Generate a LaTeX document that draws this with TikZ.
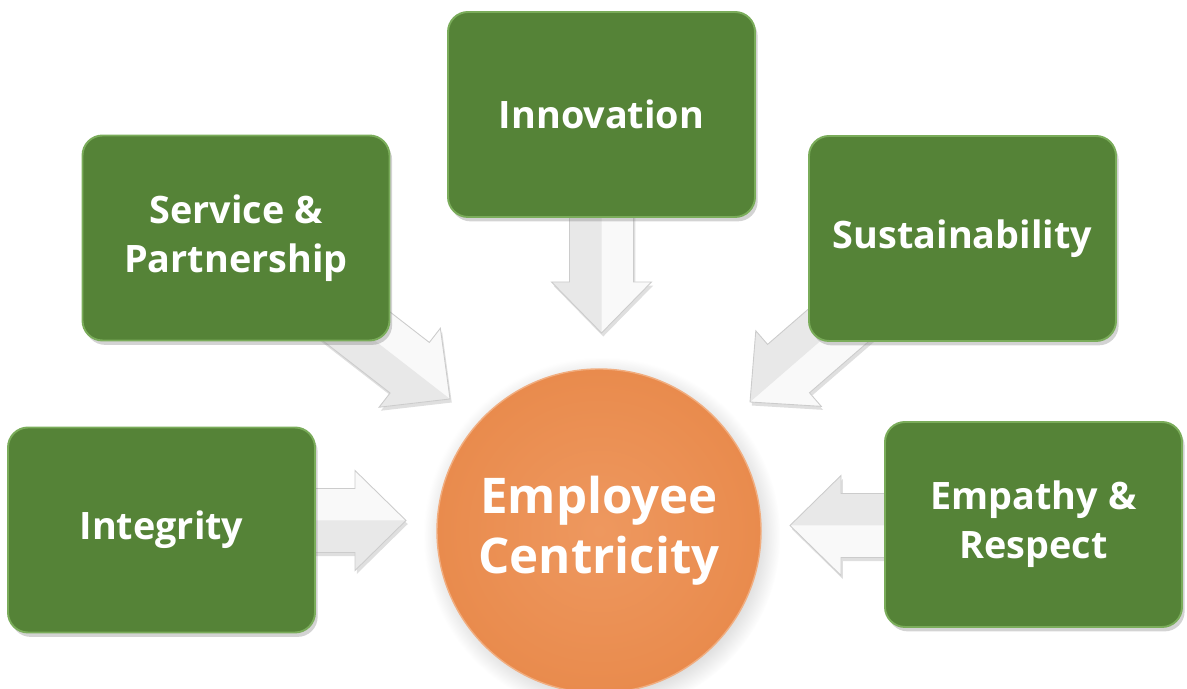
\documentclass[tikz,border=0pt]{standalone}
\usepackage{fontspec}
\setmainfont{Open Sans}
\usetikzlibrary{calc,shadows,backgrounds}

\definecolor{valuegreen}{RGB}{85,131,55}
\definecolor{valuerim}{RGB}{122,172,90}
\definecolor{coreorange}{RGB}{233,139,77}
\definecolor{corelight}{RGB}{238,152,95}

% block arrow from #1 (tail) to #2 (tip)
\newcommand{\valuearrow}[2]{%
  \coordinate (hb) at ($(#2)!1.02cm!(#1)$);
  \fill[arrow body] ($(#1)!.64cm!90:(#2)$) -- ($(hb)!.64cm!90:(#2)$) -- ($(hb)!1cm!90:(#2)$) -- (#2)
    -- ($(hb)!1cm!-90:(#2)$) -- ($(hb)!.64cm!-90:(#2)$) -- ($(#1)!.64cm!-90:(#2)$) -- cycle;
  \fill[arrow side] (#1) -- ($(#1)!.64cm!-90:(#2)$) -- ($(hb)!.64cm!-90:(#2)$)
    -- ($(hb)!1cm!-90:(#2)$) -- (#2) -- cycle;
  \draw[arrow edge] ($(#1)!.64cm!90:(#2)$) -- ($(hb)!.64cm!90:(#2)$) -- ($(hb)!1cm!90:(#2)$) -- (#2)
    -- ($(hb)!1cm!-90:(#2)$) -- ($(hb)!.64cm!-90:(#2)$) -- ($(#1)!.64cm!-90:(#2)$);
}

\begin{document}
\begin{tikzpicture}[
    value/.style={rectangle, rounded corners=0.4cm, minimum width=6.14cm, minimum height=4.1cm,
      fill=valuegreen, draw=valuerim, line width=1.1pt, text=white, align=center,
      font=\bfseries\fontsize{21.5}{28}\selectfont,
      drop shadow={shadow xshift=1.5pt, shadow yshift=-2.5pt, opacity=.35}},
    core/.style={circle, minimum size=6.48cm, inner color=corelight, outer color=coreorange,
      draw=corelight!80!white, line width=0.8pt, text=white, align=center,
      font=\bfseries\fontsize{28}{34}\selectfont,
      circular drop shadow={shadow xshift=1.5pt, shadow yshift=-2.5pt, opacity=.3}},
    arrow body/.style={fill=gray!5, drop shadow={shadow xshift=1pt, shadow yshift=-2pt, opacity=.25}},
    arrow side/.style={fill=gray!18},
    arrow edge/.style={draw=gray!40, line width=0.5pt, line join=miter}
  ]
  \useasboundingbox (0,0) rectangle (23.74,13.78);

  % the five values
  \node[value] (inno) at (12.03,11.49) {Innovation};
  \node[value] (serv) at (4.72,9.02) {Service \&\\Partnership};
  \node[value] (sust) at (19.25,9.01) {Sustainability};
  \node[value] (integ) at (3.23,3.18) {Integrity};
  \node[value, minimum width=5.94cm] (emp) at (20.67,3.29) {Empathy \&\\Respect};

  % centre
  \node[core] (core) at (11.98,3.16) {Employee\\Centricity};

  % arrow ends
  \coordinate (inno-tail) at ($(inno.south)+(0,0.4)$);
  \coordinate (inno-tip) at (12.03,7.12);
  \coordinate (serv-tail) at ($(serv.south east)+(-1.31,0.79)$);
  \coordinate (serv-tip) at (9.0,5.80);
  \coordinate (sust-tail) at ($(sust.south west)+(1.24,0.88)$);
  \coordinate (sust-tip) at (15.0,5.74);
  \coordinate (integ-tail) at ($(integ.east)+(-0.3,0.19)$);
  \coordinate (integ-tip) at (8.12,3.37);
  \coordinate (emp-tail) at ($(emp.west)+(0.3,-0.02)$);
  \coordinate (emp-tip) at (15.8,3.27);

  \begin{scope}[on background layer]
    \valuearrow{inno-tail}{inno-tip}
    \valuearrow{serv-tail}{serv-tip}
    \valuearrow{sust-tail}{sust-tip}
    \valuearrow{integ-tail}{integ-tip}
    \valuearrow{emp-tail}{emp-tip}
  \end{scope}
\end{tikzpicture}
\end{document}
